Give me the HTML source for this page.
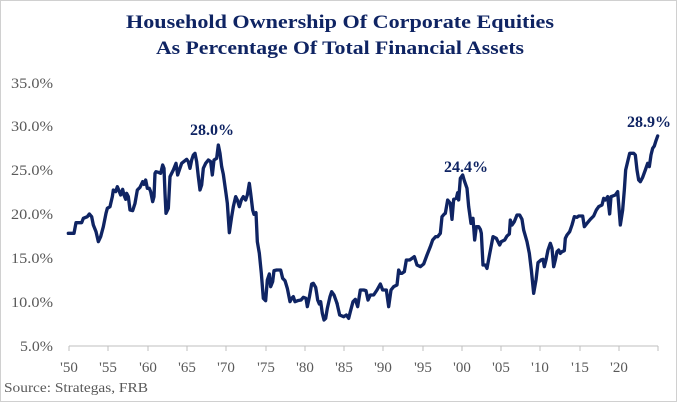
<!DOCTYPE html>
<html><head><meta charset="utf-8"><style>
html,body{margin:0;padding:0;background:#fff;}
svg{display:block;}
</style></head><body>
<svg width="677" height="402" viewBox="0 0 677 402" xmlns="http://www.w3.org/2000/svg" font-family="'Liberation Serif', serif">
<rect x="0.5" y="0.5" width="676" height="401" fill="#fff" stroke="#d0d0d0"/>
<text x="340" y="28" text-anchor="middle" font-size="19" font-weight="bold" fill="#0f2463" textLength="428" lengthAdjust="spacingAndGlyphs">Household Ownership Of Corporate Equities</text>
<text x="340" y="54" text-anchor="middle" font-size="19" font-weight="bold" fill="#0f2463" textLength="368" lengthAdjust="spacingAndGlyphs">As  Percentage Of Total Financial Assets</text>
<g font-size="15" fill="#595959" text-anchor="end">
<text x="53" y="88" textLength="42" lengthAdjust="spacingAndGlyphs">35.0%</text>
<text x="53" y="131" textLength="42" lengthAdjust="spacingAndGlyphs">30.0%</text>
<text x="53" y="175" textLength="42" lengthAdjust="spacingAndGlyphs">25.0%</text>
<text x="53" y="219" textLength="42" lengthAdjust="spacingAndGlyphs">20.0%</text>
<text x="53" y="263" textLength="42" lengthAdjust="spacingAndGlyphs">15.0%</text>
<text x="53" y="307" textLength="42" lengthAdjust="spacingAndGlyphs">10.0%</text>
<text x="53" y="351" textLength="33" lengthAdjust="spacingAndGlyphs">5.0%</text>
</g>
<line x1="69" y1="346" x2="658" y2="346" stroke="#bfbfbf" stroke-width="1"/>
<g stroke="#bfbfbf" stroke-width="1">
<line x1="69" y1="346" x2="69" y2="351"/><line x1="108" y1="346" x2="108" y2="351"/><line x1="148" y1="346" x2="148" y2="351"/><line x1="187" y1="346" x2="187" y2="351"/><line x1="226" y1="346" x2="226" y2="351"/><line x1="266" y1="346" x2="266" y2="351"/><line x1="305" y1="346" x2="305" y2="351"/><line x1="344" y1="346" x2="344" y2="351"/><line x1="383" y1="346" x2="383" y2="351"/><line x1="423" y1="346" x2="423" y2="351"/><line x1="462" y1="346" x2="462" y2="351"/><line x1="501" y1="346" x2="501" y2="351"/><line x1="540" y1="346" x2="540" y2="351"/><line x1="580" y1="346" x2="580" y2="351"/><line x1="619" y1="346" x2="619" y2="351"/><line x1="658" y1="346" x2="658" y2="351"/>
</g>
<g font-size="15" fill="#595959" text-anchor="middle">
<text x="69" y="372">'50</text><text x="108" y="372">'55</text><text x="148" y="372">'60</text><text x="187" y="372">'65</text><text x="226" y="372">'70</text><text x="266" y="372">'75</text><text x="305" y="372">'80</text><text x="344" y="372">'85</text><text x="383" y="372">'90</text><text x="423" y="372">'95</text><text x="462" y="372">'00</text><text x="501" y="372">'05</text><text x="540" y="372">'10</text><text x="580" y="372">'15</text><text x="619" y="372">'20</text>
</g>
<text x="4" y="392" font-size="14" fill="#595959" textLength="144" lengthAdjust="spacingAndGlyphs">Source: Strategas, FRB</text>
<g fill="none" stroke="#0f2463" stroke-width="10" stroke-linejoin="round" stroke-linecap="round">
<path transform="translate(0,60) scale(0.33333)" d="M205,520 L222,520 L228,488 L245,488 L250,475 L262,470 L268,462 L275,470 L280,495 L288,515 L295,545 L302,530 L310,500 L318,460 L322,445 L330,440 L337,410 L340,390 L347,395 L352,380 L358,395 L362,405 L368,388 L372,405 L377,418 L380,400 L385,410 L390,450 L398,452 L405,430 L412,390 L420,382 L428,365 L432,373 L437,360 L442,385 L448,385 L452,395 L458,425 L462,410 L465,340 L468,335 L475,337 L482,340 L488,315 L492,325 L495,400 L498,460 L505,445 L510,350 L520,330 L528,310 L533,345 L538,330 L545,310 L560,298 L565,305 L570,325 L575,300 L580,285 L585,280 L590,305 L595,350 L600,390 L605,375 L610,325 L617,310 L625,300 L632,305 L637,345 L642,300 L650,295 L655,255 L660,280 L665,320 L670,343 L678,400 L682,430 L688,518 L695,470 L700,440 L707,410 L712,420 L718,440 L724,420 L730,410 L737,420 L742,405 L748,370 L752,400 L758,450 L762,463 L768,458 L772,545 L778,580 L784,640 L790,715 L797,722 L802,660 L808,642 L812,680 L818,665 L822,632 L830,630 L842,630 L848,655 L855,662 L862,685 L870,725 L875,715 L880,710 L885,725 L893,722 L903,720 L910,712 L918,715 L922,740 L928,712 L935,672 L940,670 L947,682 L950,700 L953,720 L958,732 L962,725 L967,760 L972,780 L977,775 L982,745 L990,710 L995,695 L1002,705 L1011,730"/>
<path transform="translate(337,60) scale(0.33333)" d="M0,730 L8,765 L20,770 L28,765 L35,775 L40,755 L48,725 L55,718 L62,740 L70,690 L80,690 L87,692 L93,720 L100,705 L110,705 L120,690 L130,672 L137,690 L148,690 L155,740 L162,690 L170,680 L180,675 L185,630 L190,640 L195,640 L202,635 L208,600 L218,600 L225,595 L232,590 L240,615 L250,620 L260,612 L270,585 L280,560 L287,540 L296,530 L302,530 L310,520 L315,470 L322,462 L325,460 L332,420 L340,430 L345,478 L350,418 L358,415 L362,398 L365,420 L370,355 L377,345 L382,362 L390,385 L395,440 L402,490 L408,475 L413,540 L418,500 L425,500 L430,508 L433,520 L438,615 L445,615 L450,625 L458,582 L468,530 L478,535 L488,555 L493,545 L503,540 L510,528 L517,522 L520,480 L525,495 L532,485 L540,465 L548,465 L555,478 L560,510 L570,545 L577,580 L583,630 L590,700 L597,660 L603,608 L612,600 L618,598 L622,620 L627,600 L633,570 L640,550 L645,565 L650,620 L655,600 L660,575 L665,570 L670,580 L675,575 L682,572 L685,535 L690,525 L698,515 L705,495 L712,470 L720,472 L725,468 L737,468 L742,500 L750,490 L760,478 L770,468 L778,450 L785,440 L795,435 L800,415 L805,420 L812,410 L818,462 L822,410 L835,405 L842,395 L850,495 L857,450 L862,390 L866,330 L872,305 L878,280 L890,280 L895,285 L900,330 L905,360 L910,365 L917,352 L925,330 L932,310 L937,320 L942,285 L947,265 L952,258 L957,242 L962,228"/>
</g>
<g font-size="16" font-weight="bold" fill="#0f2463" text-anchor="middle">
<text x="212" y="135" textLength="44" lengthAdjust="spacingAndGlyphs">28.0%</text>
<text x="466" y="172" textLength="44" lengthAdjust="spacingAndGlyphs">24.4%</text>
<text x="649" y="127" textLength="44" lengthAdjust="spacingAndGlyphs">28.9%</text>
</g>
</svg>
</body></html>
